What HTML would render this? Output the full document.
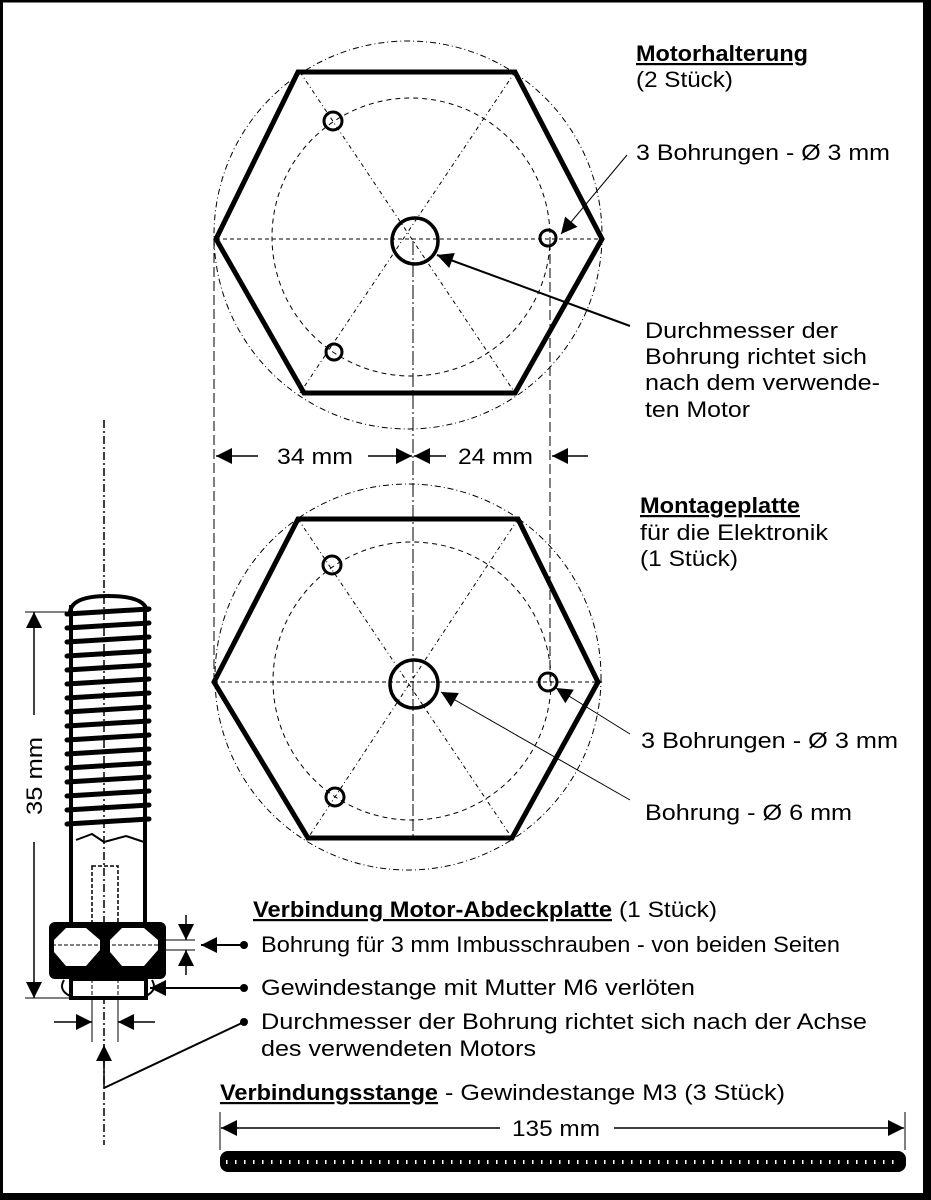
<!DOCTYPE html>
<html><head><meta charset="utf-8"><style>
html,body{margin:0;padding:0;background:#fff}
svg{display:block}
text{font-family:"Liberation Sans",Arial,sans-serif;font-size:22px;fill:#000}
.b{font-weight:bold;text-decoration:underline}
</style></head><body>
<svg width="931" height="1200" viewBox="0 0 931 1200" xmlns="http://www.w3.org/2000/svg">
<defs>
<marker id="AH" viewBox="0 0 10 10" refX="10" refY="5" markerWidth="22" markerHeight="16" markerUnits="userSpaceOnUse" orient="auto"><path d="M0,0 L10,5 L0,10z" fill="#000"/></marker>
</defs>
<rect x="0" y="0" width="931" height="1200" fill="#fff"/>
<rect x="1.5" y="1" width="924" height="1194" fill="none" stroke="#000" stroke-width="3"/>
<rect x="923" y="0" width="8" height="1200" fill="#000"/>
<rect x="0" y="1193" width="931" height="7" fill="#000"/>

<g fill="none" stroke="#000">
<circle cx="408" cy="235" r="194" stroke-width="1" stroke-dasharray="6,3,1,3"/>
<circle cx="411" cy="237" r="139" stroke-width="1" stroke-dasharray="5,4"/>
<g stroke-width="1" stroke-dasharray="4,3,1,3">
<line x1="300" y1="72" x2="515" y2="393"/>
<line x1="515" y1="72" x2="300" y2="393"/>
</g>
<line x1="216" y1="239" x2="602" y2="239" stroke-width="1" stroke-dasharray="4,3"/>
<polygon points="298,72 515,72 602,239 515,393 304,393 216,239" stroke-width="5"/>
<circle cx="415" cy="241" r="23" stroke-width="3.5"/>
<circle cx="333" cy="121" r="9" stroke-width="3"/>
<circle cx="548" cy="238" r="8" stroke-width="3"/>
<circle cx="334" cy="352" r="8" stroke-width="3"/>
</g>
<g stroke="#000" stroke-width="1" fill="none">
<line x1="214" y1="239" x2="214" y2="682" stroke-dasharray="10,4"/>
<line x1="550" y1="240" x2="550" y2="682" stroke-dasharray="10,4"/>
<line x1="413" y1="241" x2="413" y2="684" stroke-dasharray="14,3,2,3"/>
</g>

<g fill="none" stroke="#000">
<circle cx="408" cy="677" r="193" stroke-width="1" stroke-dasharray="6,3,1,3"/>
<circle cx="412" cy="681" r="139" stroke-width="1" stroke-dasharray="5,4"/>
<g stroke-width="1" stroke-dasharray="4,3,1,3">
<line x1="298" y1="519" x2="512" y2="838"/>
<line x1="518" y1="519" x2="308" y2="838"/>
<line x1="413" y1="684" x2="413" y2="838" stroke-dasharray="12,3"/>
</g>
<line x1="214" y1="682" x2="602" y2="682" stroke-width="1" stroke-dasharray="4,3"/>
<polygon points="298,519 518,519 598,682 512,838 308,838 214,682" stroke-width="5"/>
<circle cx="414" cy="684" r="24" stroke-width="3.5"/>
<circle cx="332" cy="565" r="9" stroke-width="3"/>
<circle cx="548" cy="682" r="9" stroke-width="3"/>
<circle cx="335" cy="797" r="9" stroke-width="3"/>
</g>

<g stroke="#000" fill="none">
<line x1="627" y1="155" x2="561" y2="234" stroke-width="1" marker-end="url(#AH)"/>
<line x1="630" y1="326" x2="437" y2="255" stroke-width="2" marker-end="url(#AH)"/>
<line x1="630" y1="734" x2="556" y2="688" stroke-width="1" marker-end="url(#AH)"/>
<line x1="630" y1="800" x2="441" y2="692" stroke-width="1" marker-end="url(#AH)"/>
</g>

<g stroke="#000" stroke-width="1.5" fill="none">
<line x1="258" y1="456" x2="216" y2="456" marker-end="url(#AH)"/>
<line x1="368" y1="456" x2="412" y2="456" marker-end="url(#AH)"/>
<line x1="446" y1="456" x2="414" y2="456" marker-end="url(#AH)"/>
<line x1="588" y1="456" x2="552" y2="456" marker-end="url(#AH)"/>
</g>
<text x="277" y="464" textLength="76" lengthAdjust="spacingAndGlyphs">34 mm</text>
<text x="458" y="464" textLength="75" lengthAdjust="spacingAndGlyphs">24 mm</text>

<text x="636" y="61" class="b" textLength="172" lengthAdjust="spacingAndGlyphs">Motorhalterung</text>
<text x="636" y="87" textLength="97" lengthAdjust="spacingAndGlyphs">(2 Stück)</text>
<text x="636" y="160" textLength="254" lengthAdjust="spacingAndGlyphs">3 Bohrungen - Ø 3 mm</text>
<text x="645" y="338" textLength="193" lengthAdjust="spacingAndGlyphs">Durchmesser der</text>
<text x="645" y="364" textLength="222" lengthAdjust="spacingAndGlyphs">Bohrung richtet sich</text>
<text x="645" y="390" textLength="235" lengthAdjust="spacingAndGlyphs">nach dem verwende-</text>
<text x="645" y="417" textLength="105" lengthAdjust="spacingAndGlyphs">ten Motor</text>
<text x="640" y="513" class="b" textLength="160" lengthAdjust="spacingAndGlyphs">Montageplatte</text>
<text x="640" y="540" textLength="188" lengthAdjust="spacingAndGlyphs">für die Elektronik</text>
<text x="640" y="566" textLength="98" lengthAdjust="spacingAndGlyphs">(1 Stück)</text>
<text x="641" y="748" textLength="257" lengthAdjust="spacingAndGlyphs">3 Bohrungen - Ø 3 mm</text>
<text x="645" y="820" textLength="207" lengthAdjust="spacingAndGlyphs">Bohrung - Ø 6 mm</text>

<line x1="104" y1="420" x2="104" y2="1145" stroke="#000" stroke-width="1.5" stroke-dasharray="8,3,2,3"/>
<g stroke="#000" fill="none">
<path d="M70,612 Q72,596 108,596 Q146,596 147,612" stroke-width="4"/>
<line x1="71" y1="605" x2="71" y2="922" stroke-width="4"/>
<line x1="145" y1="605" x2="145" y2="922" stroke-width="4"/>
<g stroke-width="5" stroke-linecap="round">
<line x1="67" y1="614" x2="149" y2="609"/>
<line x1="67" y1="628" x2="149" y2="623"/>
<line x1="67" y1="642" x2="149" y2="637"/>
<line x1="67" y1="656" x2="149" y2="651"/>
<line x1="67" y1="670" x2="149" y2="665"/>
<line x1="67" y1="684" x2="149" y2="679"/>
<line x1="67" y1="698" x2="149" y2="693"/>
<line x1="67" y1="712" x2="149" y2="707"/>
<line x1="67" y1="726" x2="149" y2="721"/>
<line x1="67" y1="740" x2="149" y2="735"/>
<line x1="67" y1="754" x2="149" y2="749"/>
<line x1="67" y1="768" x2="149" y2="763"/>
<line x1="67" y1="782" x2="149" y2="777"/>
<line x1="67" y1="796" x2="149" y2="791"/>
<line x1="67" y1="810" x2="149" y2="805"/>
<line x1="67" y1="824" x2="149" y2="819"/>
</g>
<path d="M76,840 L92,834 L104,842 L126,836 L144,842" stroke-width="2"/>
<rect x="92" y="866" width="26" height="132" stroke-width="1.5" stroke-dasharray="4,2"/>
</g>
<rect x="49" y="922" width="117" height="57" rx="6" fill="#000"/>
<g fill="#fff">
<polygon points="66,928 86,928 100,940 100,950 86,966 66,966 54,952 54,940"/>
<polygon points="122,928 144,928 158,940 158,950 144,966 122,966 110,952 110,940"/>
</g>
<line x1="52" y1="945" x2="162" y2="945" stroke="#000" stroke-width="1" stroke-dasharray="4,2"/>
<rect x="71" y="979" width="75" height="19" fill="#fff" stroke="#000" stroke-width="4"/>
<line x1="92" y1="979" x2="92" y2="998" stroke="#000" stroke-dasharray="4,2"/>
<line x1="118" y1="979" x2="118" y2="998" stroke="#000" stroke-dasharray="4,2"/>
<path d="M64,980 Q58,990 70,996" stroke="#000" fill="none" stroke-width="2"/>
<path d="M152,980 Q158,990 146,996" stroke="#000" fill="none" stroke-width="2"/>

<g stroke="#000" stroke-width="1.5" fill="none">
<line x1="25" y1="612" x2="72" y2="612" stroke-width="1"/>
<line x1="25" y1="998" x2="72" y2="998" stroke-width="1"/>
<line x1="34" y1="715" x2="34" y2="612" marker-end="url(#AH)"/>
<line x1="34" y1="842" x2="34" y2="998" marker-end="url(#AH)"/>
<line x1="92" y1="1000" x2="92" y2="1042" stroke-width="1"/>
<line x1="118" y1="1000" x2="118" y2="1042" stroke-width="1"/>
<line x1="54" y1="1022" x2="92" y2="1022" marker-end="url(#AH)"/>
<line x1="155" y1="1022" x2="118" y2="1022" marker-end="url(#AH)"/>
<line x1="104" y1="1088" x2="104" y2="1045" marker-end="url(#AH)"/>
<line x1="104" y1="1088" x2="244" y2="1022" stroke-width="2"/>
<line x1="166" y1="940" x2="195" y2="940" stroke-width="1"/>
<line x1="166" y1="950" x2="195" y2="950" stroke-width="1"/>
<line x1="186" y1="915" x2="186" y2="940" marker-end="url(#AH)"/>
<line x1="186" y1="975" x2="186" y2="950" marker-end="url(#AH)"/>
<line x1="244" y1="945" x2="201" y2="945" stroke-width="2" marker-end="url(#AH)"/>
<line x1="244" y1="988" x2="150" y2="988" stroke-width="2" marker-end="url(#AH)"/>
</g>
<g fill="#000"><circle cx="244" cy="945" r="4"/><circle cx="244" cy="988" r="4"/><circle cx="244" cy="1022" r="4"/></g>
<text transform="translate(42,776) rotate(-90)" x="-39" y="0" textLength="78" lengthAdjust="spacingAndGlyphs">35 mm</text>

<text x="253" y="917" class="b" textLength="359" lengthAdjust="spacingAndGlyphs">Verbindung Motor-Abdeckplatte</text>
<text x="619" y="917" textLength="98" lengthAdjust="spacingAndGlyphs">(1 Stück)</text>
<text x="261" y="952" textLength="579" lengthAdjust="spacingAndGlyphs">Bohrung für 3 mm Imbusschrauben - von beiden Seiten</text>
<text x="261" y="995" textLength="434" lengthAdjust="spacingAndGlyphs">Gewindestange mit Mutter M6 verlöten</text>
<text x="261" y="1029" textLength="606" lengthAdjust="spacingAndGlyphs">Durchmesser der Bohrung richtet sich nach der Achse</text>
<text x="261" y="1056" textLength="275" lengthAdjust="spacingAndGlyphs">des verwendeten Motors</text>
<text x="220" y="1100" class="b" textLength="218" lengthAdjust="spacingAndGlyphs">Verbindungsstange</text>
<text x="445" y="1100" textLength="340" lengthAdjust="spacingAndGlyphs">- Gewindestange M3 (3 Stück)</text>

<g stroke="#000" stroke-width="1" fill="none">
<line x1="220" y1="1112" x2="220" y2="1150"/>
<line x1="905" y1="1112" x2="905" y2="1150"/>
<line x1="500" y1="1128" x2="221" y2="1128" stroke-width="1.5" marker-end="url(#AH)"/>
<line x1="614" y1="1128" x2="904" y2="1128" stroke-width="1.5" marker-end="url(#AH)"/>
</g>
<text x="512" y="1136" textLength="88" lengthAdjust="spacingAndGlyphs">135 mm</text>
<rect x="220" y="1151" width="686" height="21" rx="8" fill="#000"/>
<line x1="226" y1="1162" x2="900" y2="1162" stroke="#fff" stroke-width="4" stroke-dasharray="1.5,7.5"/>
</svg>
</body></html>
